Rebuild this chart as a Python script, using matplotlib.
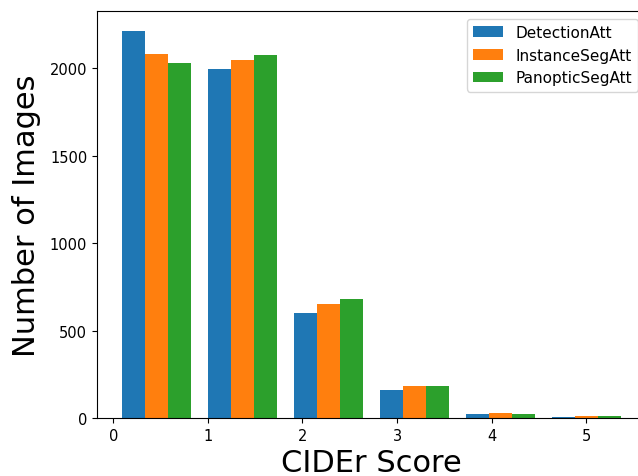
import numpy as np
import matplotlib
matplotlib.use("Agg")
import matplotlib.pyplot as plt

# CIDEr score histogram, 6 bins from 0 to the max score
bin_edges = np.linspace(0.0, 5.46, 7)
labels = ["DetectionAtt", "InstanceSegAtt", "PanopticSegAtt"]
detection = [2213, 1996, 602, 162, 23, 4]
instance_seg = [2080, 2046, 651, 183, 29, 11]
panoptic_seg = [2027, 2072, 682, 184, 23, 12]
counts = [detection, instance_seg, panoptic_seg]
colors = ["#1f77b4", "#ff7f0e", "#2ca02c"]

fig = plt.figure(figsize=(6.38, 4.77), dpi=100)
# axes run slightly past the right edge (the original was cropped)
ax = fig.add_axes([97 / 638, 58 / 477, 549 / 638, 406.6 / 477])

widths = np.diff(bin_edges)
dw = 0.8 * widths / len(counts)
for i, (vals, lab, col) in enumerate(zip(counts, labels, colors)):
    left = bin_edges[:-1] + 0.1 * widths + i * dw
    ax.bar(left, vals, width=dw, align="edge", color=col, label=lab)

ax.tick_params(labelsize=10.5)
ax.set_xlabel("CIDEr Score", fontsize=22)
ax.set_ylabel("Number of Images", fontsize=22, labelpad=6)
ax.legend(loc="upper right", fontsize=11)

fig.savefig("out.png", dpi=100)
